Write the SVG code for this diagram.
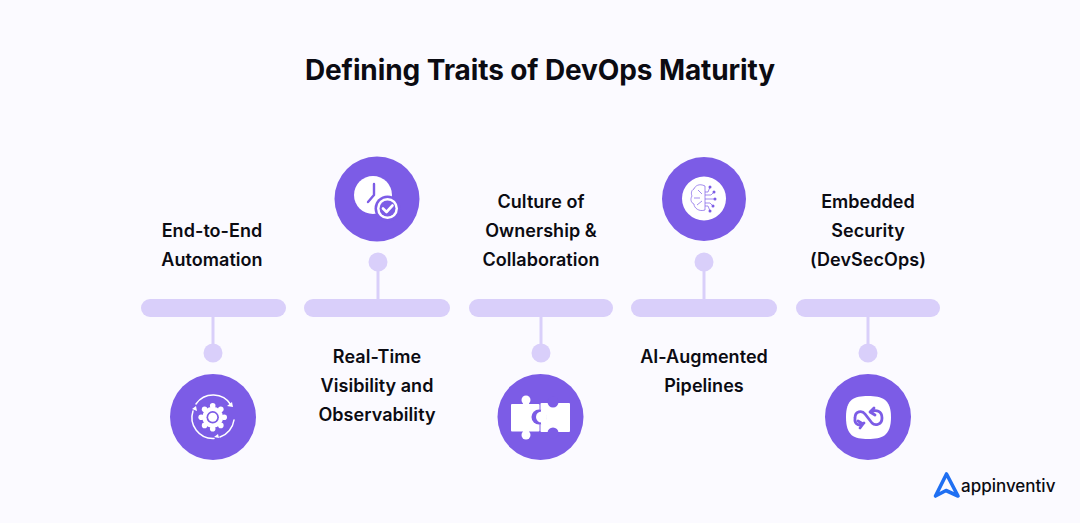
<svg xmlns="http://www.w3.org/2000/svg" width="1080" height="523" viewBox="0 0 1080 523">
<style>
text{font-family:"Inter","Liberation Sans",sans-serif;fill:#0b0b12}
.t{font-size:18px;font-weight:600;text-anchor:middle;letter-spacing:.05px}
.bar{fill:#d9cffa}
.stem{stroke:#d9cffa;stroke-width:3;fill:none}
.dot{fill:#d9cffa}
.c{fill:#7c5ce6}
.w{fill:#fff}
.wl{fill:none;stroke:#fff;stroke-width:1.5;stroke-linecap:round}
.pl{fill:none;stroke:#7c5ce6;stroke-width:2.4;stroke-linecap:round;stroke-linejoin:round}
.b{fill:none;stroke:#7c5ce6;stroke-width:.7}
.bd{fill:#7c5ce6}
</style>
<rect width="1080" height="523" fill="#fbfaff"/>
<text id="title" x="540" y="80" text-anchor="middle" style="font-size:28px;font-weight:700;letter-spacing:-.1px">Defining Traits of DevOps Maturity</text>
<g id="connectors">
<path class="stem" d="M213 317V353M378 262V299M541 317V353M704 262V299M868 317V353"/>
</g>
<g id="node1">
<rect class="bar" x="141" y="299" width="145" height="18" rx="9"/>
<circle class="dot" cx="213" cy="353" r="9.500"/>
<circle class="c" cx="213" cy="417" r="43"/>
<circle class="w" cx="212.700" cy="417.300" r="10.500"/>
<g class="w"><circle cx="212.700" cy="405.800" r="2.800"/><circle cx="212.700" cy="428.800" r="2.800"/><circle cx="201.200" cy="417.300" r="2.800"/><circle cx="224.200" cy="417.300" r="2.800"/><circle cx="204.600" cy="409.200" r="2.800"/><circle cx="220.800" cy="409.200" r="2.800"/><circle cx="204.600" cy="425.400" r="2.800"/><circle cx="220.800" cy="425.400" r="2.800"/></g>
<circle class="c" cx="212.700" cy="417.300" r="6.200"/>
<circle class="w" cx="212.700" cy="417.300" r="4.500"/>
<path class="wl" d="M196 404A21 21 0 0 1 231 405M193 411A21 21 0 0 0 214 438.500M220 437A21 21 0 0 0 234 420"/>
<path class="w" d="M233 407l-6-1 5-4zM192 409l5 2-1-5zM219 438l-1-4-4 3z"/>
<text class="t"><tspan x="212" y="237">End-to-End</tspan><tspan x="212" y="266">Automation</tspan></text>
</g>
<g id="node2">
<rect class="bar" x="304" y="299" width="146" height="18" rx="9"/>
<circle class="dot" cx="378" cy="262" r="9.500"/>
<circle class="c" cx="377" cy="199" r="42.500"/>
<circle class="w" cx="373" cy="195" r="19"/>
<path class="pl" d="M374 184V195L368 202"/>
<circle class="c" cx="387.500" cy="208.500" r="13"/>
<circle class="w" cx="387.500" cy="208.500" r="10.500"/>
<circle class="c" cx="387.500" cy="208.500" r="8"/>
<path d="M383 208.500L386.500 212L392.500 205.500" fill="none" stroke="#fff" stroke-width="2.600" stroke-linecap="round" stroke-linejoin="round"/>
<text class="t"><tspan x="377" y="363">Real-Time</tspan><tspan x="377" y="392">Visibility and</tspan><tspan x="377" y="421">Observability</tspan></text>
</g>
<g id="node3">
<rect class="bar" x="469" y="299" width="144" height="18" rx="9"/>
<circle class="dot" cx="541" cy="353" r="9.500"/>
<circle class="c" cx="540.500" cy="417" r="43"/>
<g class="w"><rect x="511" y="404" width="28.500" height="27.500" rx="1"/><circle cx="526" cy="400" r="4.500"/><rect x="523" y="400" width="6" height="6"/><circle cx="526" cy="435" r="4.500"/><rect x="523" y="430" width="6" height="6"/><rect x="540.500" y="403" width="29.500" height="29" rx="1"/></g>
<g class="c"><circle cx="553" cy="402" r="5.500"/><circle cx="553" cy="433" r="5.500"/><circle cx="539" cy="417" r="7.500"/></g>
<circle class="w" cx="541.500" cy="417" r="5.500"/>
<rect class="w" x="541" y="410" width="5" height="14"/>
<text class="t"><tspan x="541" y="208">Culture of</tspan><tspan x="541" y="237">Ownership &amp;</tspan><tspan x="541" y="266">Collaboration</tspan></text>
</g>
<g id="node4">
<rect class="bar" x="631" y="299" width="146" height="18" rx="9"/>
<circle class="dot" cx="704" cy="262" r="9.500"/>
<circle class="c" cx="704" cy="199" r="42"/>
<circle class="w" cx="704" cy="198.500" r="22"/>
<path class="b" d="M705 186C699 183 695 186 694 189C691 190 691 194 692 196C690 199 691 203 694 204C694 208 699 212 705 210ZM698 190L702 194M694 198H700M697 205L702 201"/>
<path class="b" d="M705 192L708 192L710 187M705 195L711 195L714 192M705 199H715M705 203L710 203L713 206M705 206L708 206L710 211"/>
<g class="bd"><circle cx="710" cy="187" r="1.500"/><circle cx="714" cy="192" r="1.500"/><circle cx="715" cy="199" r="1.500"/><circle cx="713" cy="206" r="1.500"/><circle cx="710" cy="211" r="1.500"/></g>
<text class="t"><tspan x="704" y="363">AI-Augmented</tspan><tspan x="704" y="392">Pipelines</tspan></text>
</g>
<g id="node5">
<rect class="bar" x="796" y="299" width="144" height="18" rx="9"/>
<circle class="dot" cx="868" cy="353" r="9.500"/>
<circle class="c" cx="868" cy="417" r="43"/>
<path class="w" d="M868 396C882 396 891 399 891 417C891 436 882 439 868 439C854 439 846 436 846 417C846 399 854 396 868 396Z"/>
<path class="pl" d="M864 423C861 426 854 426 855 418C855 411 862 410 865 414L872 423C875 426 882 425 882 418C882 411 876 409 871 412M874 408L870 412L875 415M858 421L863 424L860 428" style="stroke-width:2.800"/>
<text class="t"><tspan x="868" y="208">Embedded</tspan><tspan x="868" y="237">Security</tspan><tspan x="868" y="266">(DevSecOps)</tspan></text>
</g>
<g id="logo">
<path d="M946.500 474L958 496L946 490.500L935.500 496Z" fill="none" stroke="#1f6ff2" stroke-width="3.600" stroke-linejoin="round"/>
<text x="961" y="492" style="font-size:17px;font-weight:500">appinventiv</text>
</g>
</svg>
